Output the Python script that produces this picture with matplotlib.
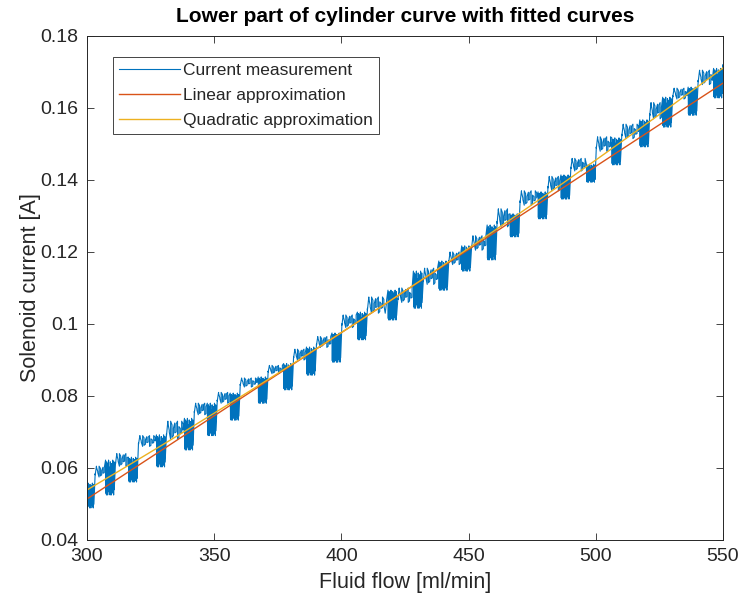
import numpy as np
import matplotlib
matplotlib.use("Agg")
import matplotlib.pyplot as plt
from matplotlib.ticker import FuncFormatter

# ---- measured data (flow in ml/min, current in A) ----
# each flow step holds a dense oscillating band followed by a calmer plateau
cluster_flow = [301, 309, 318, 329, 340, 349, 358, 369, 379, 388, 398, 408, 420,
                430, 440, 449, 459, 468, 479, 488, 498, 508, 519, 528, 538, 548]
cluster_hi = [0.0558, 0.0622, 0.0630, 0.0692, 0.0738, 0.0780, 0.0808, 0.0853,
              0.0890, 0.0936, 0.0975, 0.1033, 0.1094, 0.1147, 0.1175, 0.1217,
              0.1275, 0.1306, 0.1367, 0.1414, 0.1444, 0.1517, 0.1567, 0.1630,
              0.1658, 0.1710]
cluster_lo = [0.0489, 0.0525, 0.0561, 0.0603, 0.0650, 0.0690, 0.0733, 0.0780,
              0.0817, 0.0858, 0.0894, 0.0956, 0.1011, 0.1044, 0.1094, 0.1147,
              0.1178, 0.1242, 0.1292, 0.1347, 0.1394, 0.1442, 0.1492, 0.1547,
              0.1580, 0.1628]
plateau_hi = [0.0605, 0.0640, 0.0690, 0.0730, 0.0780, 0.0810, 0.0850, 0.0885,
              0.0930, 0.0965, 0.1025, 0.1075, 0.1100, 0.1155, 0.1200, 0.1245,
              0.1320, 0.1370, 0.1410, 0.1460, 0.1520, 0.1555, 0.1615, 0.1655,
              0.1705, 0.1720]
plateau_lo = [0.0575, 0.0605, 0.0660, 0.0680, 0.0748, 0.0780, 0.0825, 0.0862,
              0.0900, 0.0935, 0.0990, 0.1030, 0.1060, 0.1110, 0.1165, 0.1205,
              0.1270, 0.1330, 0.1370, 0.1425, 0.1480, 0.1515, 0.1570, 0.1625,
              0.1665, 0.1680]
start_flow, start_current = 300.0, 0.0540

# relative position inside each band / plateau for consecutive samples
band_shape = [1.0, 0.05, 0.85, 0.0, 0.95, 0.15, 0.7, 0.0, 0.9, 0.25, 1.0, 0.1,
              0.8, 0.05, 0.6, 0.0, 0.95, 0.2, 0.75, 0.0, 0.9, 0.1, 0.65, 0.3]
plateau_shape = [0.3, 1.0, 0.5, 0.0, 0.8, 0.2, 0.9, 0.4, 1.0, 0.1, 0.6, 0.35,
                 0.85, 0.0, 0.7]

# fitted models: linear and quadratic (highest power first)
linear_coef = [4.62e-4, -0.0872]
quadratic_coef = [2.112e-7, 2.8928e-4, -0.051892]

# ---- build the measurement trace ----
flow = [start_flow]
current = [start_current]
n_band = 30
for i, cf in enumerate(cluster_flow):
    f0, f1 = cf - 1.7, cf + 1.7
    xs = np.linspace(f0, f1, n_band)
    for k, x in enumerate(xs):
        s = band_shape[k % len(band_shape)]
        flow.append(x)
        current.append(cluster_lo[i] + (cluster_hi[i] - cluster_lo[i]) * s)
    nxt = cluster_flow[i + 1] - 1.7 if i + 1 < len(cluster_flow) else 550.0
    n_pl = max(int((nxt - f1) / 0.55), 2)
    ps = np.linspace(f1, nxt, n_pl + 2)[1:-1]
    for k, x in enumerate(ps):
        a = plateau_shape[k % len(plateau_shape)]
        b = plateau_shape[(k + 5) % len(plateau_shape)]
        flow += [x, x]
        current += [plateau_lo[i] + (plateau_hi[i] - plateau_lo[i]) * a,
                    plateau_lo[i] + (plateau_hi[i] - plateau_lo[i]) * b]

flow = np.array(flow)
current = np.array(current)

xf = np.linspace(300, 550, 300)
lin = np.polyval(linear_coef, xf)
quad = np.polyval(quadratic_coef, xf)

# ---- figure ----
plt.rcParams['font.family'] = ['Liberation Sans', 'DejaVu Sans']
axis_col = '#262626'

fig = plt.figure(figsize=(7.42, 6.06), dpi=100)
fig.patch.set_facecolor('white')
ax = fig.add_axes([87 / 742, 66 / 606, (723 - 87) / 742, (540 - 36) / 606])

ax.plot(flow, current, color='#0072BD', lw=0.8, label='Current measurement')
ax.plot(xf, lin, color='#D95319', lw=1.0, label='Linear approximation')
ax.plot(xf, quad, color='#EDB120', lw=1.0, label='Quadratic approximation')

ax.set_xlim(300, 550)
ax.set_ylim(0.04, 0.18)
ax.set_xticks([300, 350, 400, 450, 500, 550])
ax.set_yticks([0.04, 0.06, 0.08, 0.10, 0.12, 0.14, 0.16, 0.18])
ax.yaxis.set_major_formatter(FuncFormatter(lambda v, p: f"{v:g}"))

ax.tick_params(direction='in', top=True, right=True, length=5, width=0.6,
               colors=axis_col, labelsize=14, pad=6)
for sp in ax.spines.values():
    sp.set_color(axis_col)
    sp.set_linewidth(0.7)

ax.set_xlabel('Fluid flow [ml/min]', fontsize=15.5, color=axis_col, labelpad=5)
ax.set_ylabel('Solenoid current [A]', fontsize=15.5, color=axis_col, labelpad=0)
ax.set_title('Lower part of cylinder curve with fitted curves', fontsize=15,
             fontweight='bold', color='black', pad=10)

leg = ax.legend(loc='upper left', bbox_to_anchor=(26 / 636, 1 - 21 / 504),
                fontsize=12.5, frameon=True, fancybox=False, framealpha=1,
                edgecolor=axis_col, handlelength=3.5, handletextpad=0.2,
                labelspacing=0.55, borderpad=0.35, borderaxespad=0)
leg.get_frame().set_linewidth(0.6)
for t in leg.get_texts():
    t.set_color(axis_col)

fig.savefig('out.png', dpi=100, facecolor='white')
